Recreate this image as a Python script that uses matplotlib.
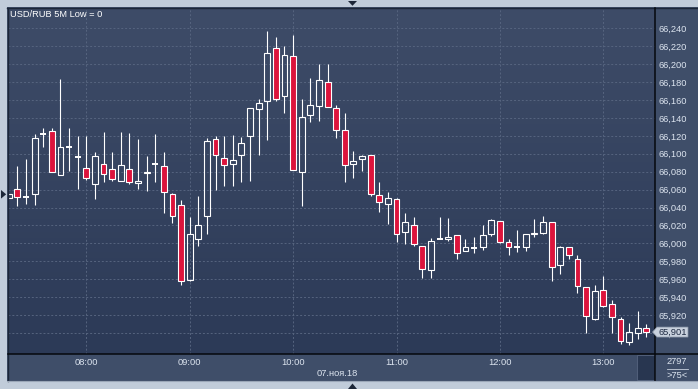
import numpy as np
import matplotlib
matplotlib.use('Agg')
import matplotlib.pyplot as plt
from matplotlib.colors import LinearSegmentedColormap
from matplotlib.patches import Polygon, Rectangle
from matplotlib.lines import Line2D

plt.rcParams['font.family'] = ['Liberation Sans', 'DejaVu Sans']

# ---------------- data (USD/RUB, 5-minute candles, 07:15 .. 13:25) ----------------
opens = [66.051, 66.061, 66.052, 66.055, 66.122, 66.125, 66.076, 66.108, 66.096, 66.084,
         66.066, 66.089, 66.083, 66.070, 66.083, 66.067, 66.078, 66.089, 66.086, 66.055,
         66.043, 65.959, 66.005, 66.030, 66.116, 66.095, 66.089, 66.099, 66.120, 66.150,
         66.159, 66.218, 66.164, 66.209, 66.080, 66.143, 66.153, 66.180, 66.151, 66.127,
         66.089, 66.094, 66.099, 66.054, 66.044, 66.049, 66.013, 66.021, 65.997, 65.970,
         66.005, 66.005, 66.009, 65.991, 65.995, 65.996, 66.010, 66.025, 66.002, 65.996,
         65.996, 66.012, 66.012, 66.024, 65.976, 65.996, 65.983, 65.951, 65.916, 65.948,
         65.932, 65.916, 65.890, 65.900, 65.906]
highs = [66.055, 66.086, 66.094, 66.122, 66.129, 66.129, 66.183, 66.129, 66.120, 66.120,
         66.102, 66.124, 66.102, 66.124, 66.123, 66.116, 66.098, 66.122, 66.102, 66.056,
         66.048, 66.029, 66.053, 66.118, 66.120, 66.120, 66.121, 66.119, 66.151, 66.161,
         66.237, 66.230, 66.220, 66.233, 66.161, 66.185, 66.200, 66.200, 66.154, 66.146,
         66.103, 66.099, 66.099, 66.069, 66.057, 66.051, 66.034, 66.029, 65.997, 66.006,
         66.029, 66.028, 66.009, 66.005, 66.007, 66.021, 66.027, 66.025, 66.005, 66.015,
         66.011, 66.027, 66.030, 66.024, 65.997, 65.996, 65.987, 65.951, 65.953, 65.964,
         65.937, 65.918, 65.911, 65.925, 65.910]
lows = [66.051, 66.042, 66.044, 66.043, 66.108, 66.080, 66.076, 66.081, 66.061, 66.071,
        66.050, 66.068, 66.070, 66.070, 66.066, 66.061, 66.058, 66.068, 66.034, 66.023,
        65.954, 65.958, 65.997, 66.011, 66.059, 66.064, 66.064, 66.069, 66.070, 66.099,
        66.115, 66.159, 66.145, 66.082, 66.042, 66.136, 66.137, 66.152, 66.118, 66.068,
        66.073, 66.081, 66.053, 66.035, 66.022, 66.001, 65.999, 65.997, 65.961, 65.961,
        66.005, 66.003, 65.983, 65.991, 65.989, 65.993, 66.008, 66.000, 65.987, 65.990,
        65.992, 66.007, 66.011, 65.958, 65.966, 65.983, 65.945, 65.900, 65.915, 65.929,
        65.900, 65.888, 65.886, 65.893, 65.895]
closes = [66.055, 66.052, 66.052, 66.118, 66.122, 66.080, 66.107, 66.108, 66.096, 66.073,
          66.098, 66.077, 66.072, 66.088, 66.069, 66.070, 66.080, 66.089, 66.057, 66.031,
          65.958, 66.011, 66.020, 66.114, 66.099, 66.087, 66.093, 66.112, 66.151, 66.157,
          66.213, 66.161, 66.210, 66.082, 66.141, 66.154, 66.182, 66.152, 66.126, 66.087,
          66.092, 66.097, 66.055, 66.046, 66.051, 66.011, 66.024, 65.999, 65.971, 66.003,
          66.005, 66.007, 65.989, 65.996, 65.995, 66.009, 66.026, 66.001, 65.996, 65.996,
          66.010, 66.010, 66.024, 65.974, 65.996, 65.987, 65.952, 65.919, 65.947, 65.930,
          65.918, 65.891, 65.901, 65.905, 65.901]

hour_idx = [9, 21, 33, 45, 57, 69]
hour_labels = ['08:00', '09:00', '10:00', '11:00', '12:00', '13:00']
ytick_vals = [65.90, 65.92, 65.94, 65.96, 65.98, 66.00, 66.02, 66.04, 66.06, 66.08,
              66.10, 66.12, 66.14, 66.16, 66.18, 66.20, 66.22, 66.24]
title = 'USD/RUB 5M Low = 0'
date_label = '07.ноя.18'
info_top = '2797'

# ---------------- layout helpers ----------------
W, H = 698, 389
fig = plt.figure(figsize=(W / 100, H / 100), dpi=100)
fig.patch.set_facecolor('#3f4e69')


def P(x, y):
    return (x / W, 1 - y / H)


def rect(x0, y0, x1, y1):
    return [x0 / W, 1 - y1 / H, (x1 - x0) / W, (y1 - y0) / H]


TXT = '#dce4ef'
FS = 6.7
RED = '#dc143c'
WHITE = '#ffffff'

ax = fig.add_axes(rect(8, 8, 655, 354))
grad = LinearSegmentedColormap.from_list('bg', ['#3e4c68', '#2c3a57'])
ax.imshow(np.linspace(0, 1, 256).reshape(-1, 1), extent=[0, 1, 0, 1],
          transform=ax.transAxes, cmap=grad, aspect='auto', zorder=0)

n = len(opens)
xs = np.arange(n)
w = 0.68
for i in range(n):
    o, h, l, c = opens[i], highs[i], lows[i], closes[i]
    top, bot = max(o, c), min(o, c)
    if h > top:
        ax.vlines(xs[i], top, h, color=WHITE, lw=0.8, zorder=3)
    if l < bot:
        ax.vlines(xs[i], l, bot, color=WHITE, lw=0.8, zorder=3)
    if top - bot < 1e-9:
        ax.hlines(top, xs[i] - w / 2, xs[i] + w / 2, color=WHITE, lw=1.4, zorder=4)
    else:
        fc = RED if c < o else 'none'
        ax.add_patch(Rectangle((xs[i] - w / 2, bot), w, top - bot, facecolor=fc,
                               edgecolor=WHITE, lw=0.8, zorder=4))

ax.set_xlim(-0.09, 75.0)
ax.set_ylim(65.8765, 66.2627)
for s in ax.spines.values():
    s.set_visible(False)

ax.set_xticks(hour_idx)
ax.set_xticklabels(hour_labels)
ax.yaxis.tick_right()
ax.set_yticks(ytick_vals)
ax.set_yticklabels([f'{v:.3f}'.replace('.', ',') for v in ytick_vals])
ax.tick_params(axis='x', length=0, pad=2.6, labelsize=FS, labelcolor=TXT)
ax.tick_params(axis='y', length=0, pad=2.2, labelsize=FS, labelcolor=TXT)
ax.grid(True, color='#56647f', lw=0.7, ls=(0, (2, 2)), zorder=1)

ax.text(0.003, 0.993, title, transform=ax.transAxes, ha='left', va='top',
        color=WHITE, fontsize=FS, zorder=6)

# ---------------- frame decoration ----------------
LIGHT = '#c1ccda'
DARK = '#1c2638'
fig.add_artist(Rectangle(P(0, 7.4), W / W, 7.4 / H, transform=fig.transFigure,
                         facecolor=LIGHT, edgecolor='none', zorder=1))
fig.add_artist(Rectangle(P(0, 389), 7.2 / W, 1, transform=fig.transFigure,
                         facecolor=LIGHT, edgecolor='none', zorder=1))
fig.add_artist(Rectangle(P(0, 389), 1, 8.4 / H, transform=fig.transFigure,
                         facecolor=LIGHT, edgecolor='none', zorder=1))
# borders
fig.add_artist(Line2D([P(7.5, 0)[0], 1], [P(0, 7.8)[1]] * 2, color=DARK, lw=1.0,
                      transform=fig.transFigure, zorder=2))
fig.add_artist(Line2D([P(7.6, 0)[0]] * 2, [P(0, 7.8)[1], P(0, 380.6)[1]], color=DARK,
                      lw=1.0, transform=fig.transFigure, zorder=2))
fig.add_artist(Line2D([P(8, 0)[0], 1], [P(0, 354)[1]] * 2, color='#05080d', lw=1.1,
                      transform=fig.transFigure, zorder=2))
fig.add_artist(Line2D([P(655, 0)[0]] * 2, [P(0, 8)[1], P(0, 380.5)[1]], color='#05080d',
                      lw=1.1, transform=fig.transFigure, zorder=2))
fig.add_artist(Line2D([P(8, 0)[0], 1], [P(0, 380.8)[1]] * 2, color='#9ba7b8', lw=0.8,
                      transform=fig.transFigure, zorder=2))
# dark box bottom right of plot
fig.add_artist(Rectangle(P(636.5, 380.3), 18 / W, 25.6 / H, transform=fig.transFigure,
                         facecolor='#283650', edgecolor='#56647f', lw=0.6, zorder=1))

# arrows
fig.add_artist(Polygon([P(348, 1), P(357, 1), P(352.5, 5.8)], closed=True,
                       transform=fig.transFigure, facecolor=DARK, edgecolor='none', zorder=3))
fig.add_artist(Polygon([P(348, 389), P(357, 389), P(352.5, 383.5)], closed=True,
                       transform=fig.transFigure, facecolor=DARK, edgecolor='none', zorder=3))
fig.add_artist(Polygon([P(1, 190), P(1, 198.6), P(6.2, 194.3)], closed=True,
                       transform=fig.transFigure, facecolor=DARK, edgecolor='none', zorder=3))

# current price tag
last = closes[-1]
ytag = 8 + (66.2627 - last) / (66.2627 - 65.8765) * 346
fig.add_artist(Polygon([P(652.5, ytag), P(657, ytag - 5), P(688, ytag - 5),
                        P(688, ytag + 5), P(657, ytag + 5)], closed=True,
                       transform=fig.transFigure, facecolor='#c9d1dd',
                       edgecolor='#8893a5', lw=0.5, zorder=3))
fig.text(*P(658.5, ytag + 0.5), f'{last:.3f}'.replace('.', ','), ha='left', va='center',
         color='#1c2840', fontsize=FS, zorder=4)

# info box
fig.text(*P(677, 362), info_top, ha='center', va='center', color=TXT, fontsize=FS, zorder=4)
fig.add_artist(Line2D([P(666.5, 0)[0], P(687.5, 0)[0]], [P(0, 368.5)[1]] * 2,
                      color='#c8d0dc', lw=0.6, transform=fig.transFigure, zorder=3))
fig.text(*P(677, 375), f'>{n}<', ha='center', va='center', color=TXT, fontsize=FS, zorder=4)

# date label
fig.text(*P(337, 373.5), date_label, ha='center', va='center', color=TXT, fontsize=FS,
         zorder=4)

fig.savefig('out.png', dpi=100, facecolor=fig.get_facecolor())
